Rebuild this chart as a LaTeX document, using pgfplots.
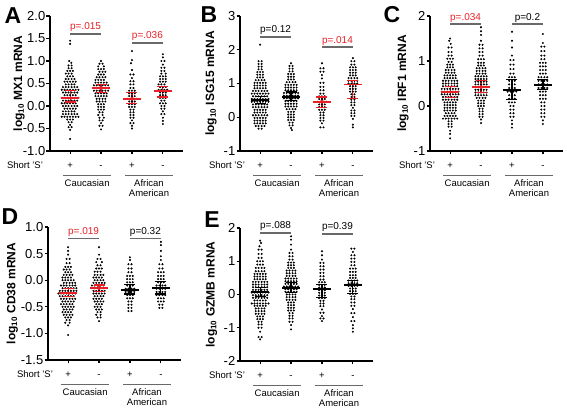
\documentclass[border=0pt]{standalone}
\usepackage{pgfplots}
\pgfplotsset{compat=1.18}
\usetikzlibrary{plotmarks}
\usepackage{fontspec}
\setmainfont{Liberation Sans}
\definecolor{pred}{RGB}{232,32,38}
\definecolor{bgray}{RGB}{105,105,105}
\newcommand{\lab}{\fontsize{9.5}{11}\selectfont}
\newcommand{\pfont}{\fontsize{10}{12}\selectfont}
\newcommand{\letfont}{\bfseries\fontsize{23}{25}\selectfont}
\pgfplotsset{
  panel/.style={
    scale only axis, width=133pt, height=135pt, anchor=south west,
    xmin=0.35, xmax=4.65, clip=false,
    axis lines=left, axis line style={-, line width=1.4pt},
    tick style={black, line width=1.2pt}, major tick length=3.5pt, tick align=outside,
    xtick={1,2,3,4}, xticklabels={+,-,+,-},
    x tick label style={font=\lab, text height=7pt, text depth=0pt, yshift=-3.5pt},
    y tick label style={font=\fontsize{13}{14}\selectfont, inner sep=1pt},
  },
  dots/.style={only marks, mark=*, mark size=0.8pt, black, mark options={draw=none, fill=black}},
}
\newcommand{\summ}[5]{%
  \addplot[#1, mark=none, line width=1.2pt] coordinates {(#2,#4) (#2,#5)};
  \addplot[#1, only marks, mark=-, mark size=5.5pt, mark options={line width=1.2pt}] coordinates {(#2,#4) (#2,#5)};
  \addplot[#1, only marks, mark=-, mark size=9pt, mark options={line width=1.9pt}] coordinates {(#2,#3)};
}
\newcommand{\bracket}[4]{% x1, y, color, text
  \draw[bgray, line width=1.2pt] (axis cs:#1,#2) -- (axis cs:#1+1,#2);
  \node[anchor=base, text=#3, font=\pfont, inner sep=0pt] at ([yshift=4pt]axis cs:#1+0.5,#2) {#4};
}
\newcommand{\bottomlabels}[2]{%
  \node[anchor=base east, font=\lab, inner sep=0pt] at ([xshift=#2, yshift=-18pt]axis cs:1,#1) {Short 'S'};
  \draw[bgray, line width=0.9pt] ([yshift=-24pt]axis cs:0.78,#1) -- ([yshift=-24pt]axis cs:2.32,#1);
  \draw[bgray, line width=0.9pt] ([yshift=-24pt]axis cs:2.78,#1) -- ([yshift=-24pt]axis cs:4.32,#1);
  \node[anchor=base, font=\lab, inner sep=0pt] at ([yshift=-35.5pt]axis cs:1.55,#1) {Caucasian};
  \node[anchor=base, font=\lab, inner sep=0pt] at ([yshift=-35.5pt]axis cs:3.55,#1) {African};
  \node[anchor=base, font=\lab, inner sep=0pt] at ([yshift=-46pt]axis cs:3.55,#1) {American};
}
\begin{document}
\begin{tikzpicture}
\useasboundingbox (0pt,0pt) rectangle (567pt,411pt);
% ---------------- Panel A ----------------
\begin{axis}[panel, at={(50pt,260pt)}, ymin=-1, ymax=2,
  ytick={-1,-0.5,0,0.5,1,1.5,2}, yticklabels={-1.0,-0.5,0.0,0.5,1.0,1.5,2.0},
  ylabel={log\textsubscript{10} MX1 mRNA},
  every axis y label/.style={at={(axis description cs:-0.233,0.5)}, rotate=90, anchor=center, font=\bfseries\fontsize{12}{13}\selectfont}]
\addplot[dots] coordinates {
(1,1.45)(1,1.38)(0.97,1.0)(1.04,0.96)(0.95,0.9)(1.05,0.9)(0.95,0.84)(1.05,0.84)
(0.91,0.78)(1,0.78)(1.09,0.78)
(0.86,0.72)(0.95,0.72)(1.05,0.72)
(0.91,0.66)(1,0.66)(1.09,0.66)
(0.86,0.6)(0.95,0.6)(1.05,0.6)(1.14,0.6)
(0.82,0.54)(0.91,0.54)(1,0.54)(1.09,0.54)(1.18,0.54)
(0.86,0.48)(0.95,0.48)(1.05,0.48)(1.14,0.48)
(0.77,0.42)(0.86,0.42)(0.95,0.42)(1.05,0.42)(1.14,0.42)(1.23,0.42)
(0.73,0.36)(0.82,0.36)(0.91,0.36)(1,0.36)(1.09,0.36)(1.18,0.36)(1.27,0.36)
(0.77,0.3)(0.86,0.3)(0.95,0.3)(1.05,0.3)(1.14,0.3)(1.23,0.3)
(0.82,0.24)(0.91,0.24)(1,0.24)(1.09,0.24)(1.18,0.24)
(0.73,0.18)(0.82,0.18)(0.91,0.18)(1,0.18)(1.09,0.18)(1.18,0.18)(1.27,0.18)
(0.77,0.12)(0.86,0.12)(0.95,0.12)(1.05,0.12)(1.14,0.12)(1.23,0.12)
(0.73,0.06)(0.82,0.06)(0.91,0.06)(1,0.06)(1.09,0.06)(1.18,0.06)
(0.77,0)(0.86,0)(0.95,0)(1.05,0)(1.14,0)(1.23,0)
(0.82,-0.06)(0.91,-0.06)(1,-0.06)(1.09,-0.06)(1.18,-0.06)
(0.77,-0.12)(0.86,-0.12)(0.95,-0.12)(1.05,-0.12)(1.14,-0.12)
(0.77,-0.18)(0.86,-0.18)(0.95,-0.18)(1.05,-0.18)(1.14,-0.18)(1.23,-0.18)
(0.73,-0.24)(0.82,-0.24)(0.91,-0.24)(1,-0.24)(1.09,-0.24)(1.18,-0.24)(1.27,-0.24)
(0.91,-0.3)(1,-0.3)(1.09,-0.3)
(0.95,-0.36)(1.05,-0.36)
(1,-0.42)(0.95,-0.47)(1.05,-0.47)(1,-0.53)(1,-0.73)
};
\addplot[dots] coordinates {
(2,1.0)(1.95,0.94)(2.05,0.94)(1.91,0.88)(2.09,0.88)
(1.91,0.82)(2,0.82)(2.09,0.82)
(1.95,0.76)(2.05,0.76)(2.14,0.76)
(1.91,0.7)(2,0.7)(2.09,0.7)
(1.86,0.64)(1.95,0.64)(2.05,0.64)(2.14,0.64)
(1.82,0.58)(1.91,0.58)(2,0.58)(2.09,0.58)
(1.82,0.52)(1.91,0.52)(2,0.52)(2.09,0.52)(2.18,0.52)
(1.77,0.46)(1.86,0.46)(1.95,0.46)(2.05,0.46)(2.14,0.46)(2.23,0.46)
(1.77,0.4)(1.86,0.4)(1.95,0.4)(2.05,0.4)(2.14,0.4)(2.23,0.4)
(1.77,0.34)(1.86,0.34)(1.95,0.34)(2.05,0.34)(2.14,0.34)(2.23,0.34)
(1.82,0.28)(1.91,0.28)(2,0.28)(2.09,0.28)(2.18,0.28)
(1.82,0.22)(1.91,0.22)(2,0.22)(2.09,0.22)(2.18,0.22)
(1.86,0.16)(1.95,0.16)(2.05,0.16)(2.14,0.16)
(1.86,0.1)(1.95,0.1)(2.05,0.1)(2.14,0.1)
(1.91,0.04)(2,0.04)(2.09,0.04)
(1.91,-0.02)(2,-0.02)(2.09,-0.02)
(1.91,-0.08)(2,-0.08)(2.09,-0.08)
(1.95,-0.14)(2.05,-0.14)
(1.91,-0.2)(2.05,-0.2)
(1.95,-0.26)(2.09,-0.26)
(1.95,-0.32)(2.05,-0.32)
(2,-0.38)(1.95,-0.44)(2.05,-0.44)(2,-0.52)
};
\addplot[dots] coordinates {
(3,1.22)(3,1.02)(2.97,0.95)(3,0.8)(2.95,0.7)(3.05,0.7)(3,0.62)
(2.95,0.55)(3.05,0.55)(2.95,0.48)(3.05,0.48)(2.95,0.4)(3.05,0.4)
(2.91,0.34)(3,0.34)(3.09,0.34)
(2.91,0.28)(3,0.28)(3.09,0.28)
(2.91,0.22)(3,0.22)(3.09,0.22)
(2.86,0.16)(2.95,0.16)(3.05,0.16)(3.14,0.16)
(2.91,0.1)(3,0.1)(3.09,0.1)
(2.91,0.04)(3,0.04)(3.09,0.04)
(2.91,-0.02)(3,-0.02)(3.09,-0.02)
(2.95,-0.08)(3.05,-0.08)
(2.95,-0.14)(3.05,-0.14)
(2.95,-0.2)(3.05,-0.2)
(2.95,-0.26)(3.05,-0.26)
(3,-0.32)(2.95,-0.38)(3.05,-0.38)(3,-0.44)(3,-0.5)
};
\addplot[dots] coordinates {
(4,1.15)(4,1.08)(3.95,1.0)(4.05,1.0)(4,0.92)(3.95,0.85)(4.05,0.85)
(3.95,0.78)(4.05,0.78)(3.95,0.72)(4.09,0.72)
(3.91,0.66)(4,0.66)(4.09,0.66)
(3.91,0.6)(4,0.6)(4.09,0.6)
(3.91,0.54)(4,0.54)(4.09,0.54)
(3.86,0.48)(3.95,0.48)(4.05,0.48)
(3.91,0.42)(4,0.42)(4.09,0.42)
(3.86,0.36)(3.95,0.36)(4.05,0.36)(4.14,0.36)
(3.91,0.3)(4,0.3)(4.09,0.3)
(3.91,0.24)(4,0.24)(4.09,0.24)
(3.91,0.18)(4,0.18)(4.09,0.18)
(3.95,0.12)(4.05,0.12)
(3.91,0.06)(4,0.06)(4.09,0.06)
(3.95,0)(4.05,0)
(3.95,-0.06)(4.05,-0.06)
(4,-0.12)(3.95,-0.18)(4.05,-0.18)(4,-0.26)(4,-0.33)(4,-0.4)
};
\summ{pred}{1}{0.17}{0.09}{0.34}
\summ{pred}{2}{0.39}{0.30}{0.47}
\summ{pred}{3}{0.15}{0.06}{0.30}
\summ{pred}{4}{0.33}{0.20}{0.43}
\bracket{1}{1.6}{pred}{p=.015}
\bracket{3}{1.4}{pred}{p=.036}
\bottomlabels{-1}{-27pt}
\end{axis}
% ---------------- Panel B ----------------
\begin{axis}[panel, at={(240pt,260pt)}, ymin=-1, ymax=3,
  ytick={-1,0,1,2,3}, yticklabels={-1,0,1,2,3},
  ylabel={log\textsubscript{10} ISG15 mRNA},
  every axis y label/.style={at={(axis description cs:-0.218,0.5)}, rotate=90, anchor=center, font=\bfseries\fontsize{12}{13}\selectfont}]
\addplot[dots] coordinates {
(1,2.15)
(0.95,1.66)(1.05,1.66)(0.95,1.58)(1.05,1.58)(0.95,1.5)(1.05,1.5)(0.95,1.42)(1.05,1.42)
(0.91,1.34)(1,1.34)(1.09,1.34)
(0.91,1.26)(1,1.26)(1.09,1.26)
(0.91,1.18)(1,1.18)(1.09,1.18)
(0.86,1.1)(0.95,1.1)(1.05,1.1)(1.14,1.1)
(0.82,1.02)(0.91,1.02)(1,1.02)(1.09,1.02)(1.18,1.02)
(0.82,0.94)(0.91,0.94)(1,0.94)(1.09,0.94)(1.18,0.94)
(0.82,0.86)(0.91,0.86)(1,0.86)(1.09,0.86)(1.18,0.86)
(0.77,0.78)(0.86,0.78)(0.95,0.78)(1.05,0.78)(1.14,0.78)(1.23,0.78)
(0.73,0.7)(0.82,0.7)(0.91,0.7)(1,0.7)(1.09,0.7)(1.18,0.7)(1.27,0.7)
(0.77,0.62)(0.86,0.62)(0.95,0.62)(1.05,0.62)(1.14,0.62)(1.23,0.62)
(0.73,0.54)(0.82,0.54)(0.91,0.54)(1,0.54)(1.09,0.54)(1.18,0.54)(1.27,0.54)
(0.73,0.46)(0.82,0.46)(0.91,0.46)(1,0.46)(1.09,0.46)(1.18,0.46)(1.27,0.46)
(0.77,0.38)(0.86,0.38)(0.95,0.38)(1.05,0.38)(1.14,0.38)(1.23,0.38)
(0.77,0.3)(0.86,0.3)(0.95,0.3)(1.05,0.3)(1.14,0.3)(1.23,0.3)
(0.82,0.22)(0.91,0.22)(1,0.22)(1.09,0.22)(1.18,0.22)
(0.82,0.14)(0.91,0.14)(1,0.14)(1.09,0.14)(1.18,0.14)
(0.77,0.06)(0.86,0.06)(0.95,0.06)(1.05,0.06)(1.14,0.06)(1.23,0.06)
(0.82,-0.02)(0.91,-0.02)(1,-0.02)(1.09,-0.02)(1.18,-0.02)
(0.82,-0.1)(0.91,-0.1)(1,-0.1)(1.09,-0.1)(1.18,-0.1)
(0.82,-0.18)(0.91,-0.18)(1,-0.18)(1.09,-0.18)(1.18,-0.18)
(0.86,-0.26)(0.95,-0.26)(1.05,-0.26)(1.14,-0.26)
(0.95,-0.34)(1.05,-0.34)
};
\addplot[dots] coordinates {
(2,1.6)
(1.95,1.52)(2.05,1.52)(1.95,1.44)(2.05,1.44)(1.95,1.36)(2.05,1.36)
(1.91,1.28)(2,1.28)(2.09,1.28)
(1.91,1.2)(2,1.2)(2.09,1.2)
(1.91,1.12)(2,1.12)(2.09,1.12)
(1.86,1.04)(1.95,1.04)(2.05,1.04)(2.14,1.04)
(1.82,0.96)(1.91,0.96)(2,0.96)(2.09,0.96)(2.18,0.96)
(1.82,0.88)(1.91,0.88)(2,0.88)(2.09,0.88)(2.18,0.88)
(1.82,0.8)(1.91,0.8)(2,0.8)(2.09,0.8)(2.18,0.8)
(1.77,0.72)(1.86,0.72)(1.95,0.72)(2.05,0.72)(2.14,0.72)(2.23,0.72)
(1.77,0.64)(1.86,0.64)(1.95,0.64)(2.05,0.64)(2.14,0.64)(2.23,0.64)
(1.77,0.56)(1.86,0.56)(1.95,0.56)(2.05,0.56)(2.14,0.56)(2.23,0.56)
(1.82,0.48)(1.91,0.48)(2,0.48)(2.09,0.48)(2.18,0.48)
(1.82,0.4)(1.91,0.4)(2,0.4)(2.09,0.4)(2.18,0.4)
(1.82,0.32)(1.91,0.32)(2,0.32)(2.09,0.32)(2.18,0.32)
(1.86,0.24)(1.95,0.24)(2.05,0.24)(2.14,0.24)
(1.91,0.16)(2,0.16)(2.09,0.16)
(1.91,0.08)(2,0.08)(2.09,0.08)
(1.91,0)(2,0)(2.09,0)
(1.91,-0.08)(2,-0.08)(2.09,-0.08)
(1.95,-0.16)(2.05,-0.16)
(1.95,-0.24)(2.05,-0.24)
(2,-0.32)(2.03,-0.38)
};
\addplot[dots] coordinates {
(3,1.6)(2.95,1.45)(3.05,1.45)(2.95,1.35)(3.05,1.35)(3,1.25)(3,1.15)
(2.95,1.02)(3.05,1.02)(2.95,0.9)(3.05,0.9)(2.95,0.8)(3.05,0.8)(2.95,0.7)(3.05,0.7)
(2.91,0.62)(3,0.62)(3.09,0.62)
(2.91,0.54)(3,0.54)(3.09,0.54)
(2.86,0.46)(2.95,0.46)(3.05,0.46)(3.14,0.46)
(2.91,0.38)(3,0.38)(3.09,0.38)
(2.91,0.3)(3,0.3)(3.09,0.3)
(2.91,0.22)(3,0.22)(3.09,0.22)
(2.95,0.14)(3.05,0.14)(2.95,0.06)(3.05,0.06)(2.95,-0.02)(3.05,-0.02)(2.95,-0.1)(3.05,-0.1)
(3,-0.18)(2.95,-0.3)(3.05,-0.3)
};
\addplot[dots] coordinates {
(4,1.75)
(3.95,1.66)(4.05,1.66)(3.95,1.56)(4.05,1.56)
(3.91,1.48)(4,1.48)(4.09,1.48)
(3.91,1.4)(4,1.4)(4.09,1.4)
(3.91,1.32)(4,1.32)(4.09,1.32)
(3.91,1.24)(4,1.24)(4.09,1.24)
(3.86,1.16)(3.95,1.16)(4.05,1.16)(4.14,1.16)
(3.86,1.08)(3.95,1.08)(4.05,1.08)(4.14,1.08)
(3.86,1)(3.95,1)(4.05,1)(4.14,1)
(3.91,0.92)(4,0.92)(4.09,0.92)
(3.91,0.84)(4,0.84)(4.09,0.84)
(3.91,0.76)(4,0.76)(4.09,0.76)
(3.95,0.68)(4.05,0.68)(3.95,0.6)(4.05,0.6)(3.95,0.52)(4.05,0.52)(3.95,0.44)(4.05,0.44)(3.95,0.36)(4.05,0.36)
(4,0.28)(3.95,0.2)(4.05,0.2)(3.95,0.12)(4.05,0.12)(3.95,0.04)(4.05,0.04)
(4,-0.05)(4,-0.22)(4,-0.3)
};
\summ{black}{1}{0.50}{0.41}{0.62}
\summ{black}{2}{0.60}{0.50}{0.75}
\summ{pred}{3}{0.45}{0.28}{0.60}
\summ{pred}{4}{0.97}{0.55}{1.10}
\bracket{1}{2.38}{black}{p=0.12}
\bracket{3}{2.08}{pred}{p=.014}
\bottomlabels{-1}{-15pt}
\end{axis}
% ---------------- Panel C ----------------
\begin{axis}[panel, at={(430pt,260pt)}, ymin=-1, ymax=2,
  ytick={-1,0,1,2}, yticklabels={-1,0,1,2},
  ylabel={log\textsubscript{10} IRF1 mRNA},
  every axis y label/.style={at={(axis description cs:-0.203,0.5)}, rotate=90, anchor=center, font=\bfseries\fontsize{12}{13}\selectfont}]
\addplot[dots] coordinates {
(1,1.5)(0.97,1.45)(1.02,1.38)(0.95,1.3)(1.05,1.3)(0.95,1.2)(1.05,1.2)(0.95,1.12)(1.05,1.12)
(0.91,1.05)(1,1.05)(1.09,1.05)
(0.95,0.98)(1.05,0.98)
(0.91,0.92)(1,0.92)(1.09,0.92)
(0.91,0.86)(1,0.86)(1.09,0.86)
(0.86,0.8)(0.95,0.8)(1.05,0.8)(1.14,0.8)
(0.86,0.74)(0.95,0.74)(1.05,0.74)(1.14,0.74)
(0.82,0.68)(0.91,0.68)(1,0.68)(1.09,0.68)(1.18,0.68)
(0.82,0.62)(0.91,0.62)(1,0.62)(1.09,0.62)(1.18,0.62)
(0.77,0.56)(0.86,0.56)(0.95,0.56)(1.05,0.56)(1.14,0.56)(1.23,0.56)
(0.77,0.5)(0.86,0.5)(0.95,0.5)(1.05,0.5)(1.14,0.5)(1.23,0.5)
(0.77,0.44)(0.86,0.44)(0.95,0.44)(1.05,0.44)(1.14,0.44)(1.23,0.44)
(0.73,0.38)(0.82,0.38)(0.91,0.38)(1,0.38)(1.09,0.38)(1.18,0.38)(1.27,0.38)
(0.73,0.32)(0.82,0.32)(0.91,0.32)(1,0.32)(1.09,0.32)(1.18,0.32)(1.27,0.32)
(0.73,0.26)(0.82,0.26)(0.91,0.26)(1,0.26)(1.09,0.26)(1.18,0.26)(1.27,0.26)
(0.77,0.2)(0.86,0.2)(0.95,0.2)(1.05,0.2)(1.14,0.2)(1.23,0.2)
(0.77,0.14)(0.86,0.14)(0.95,0.14)(1.05,0.14)(1.14,0.14)(1.23,0.14)
(0.82,0.08)(0.91,0.08)(1,0.08)(1.09,0.08)(1.18,0.08)
(0.82,0.02)(0.91,0.02)(1,0.02)(1.09,0.02)(1.18,0.02)
(0.82,-0.04)(0.91,-0.04)(1,-0.04)(1.09,-0.04)(1.18,-0.04)
(0.82,-0.1)(0.91,-0.1)(1,-0.1)(1.09,-0.1)(1.18,-0.1)
(0.86,-0.16)(0.95,-0.16)(1.05,-0.16)(1.14,-0.16)
(0.82,-0.22)(0.91,-0.22)(1,-0.22)(1.09,-0.22)(1.18,-0.22)
(0.77,-0.28)(0.86,-0.28)(0.95,-0.28)(1.05,-0.28)(1.14,-0.28)(1.23,-0.28)
(0.95,-0.34)(1.05,-0.34)(0.95,-0.4)(1.05,-0.4)(0.95,-0.46)(1.05,-0.46)
(1,-0.55)(1,-0.62)(1,-0.72)
};
\addplot[dots] coordinates {
(2,1.75)(2,1.66)(2,1.58)(2,1.45)(1.95,1.36)(2.05,1.36)(1.95,1.28)(2.05,1.28)(1.95,1.2)(2.05,1.2)(1.95,1.12)(2.05,1.12)
(1.91,1.04)(2,1.04)(2.09,1.04)
(1.91,0.96)(2,0.96)(2.09,0.96)
(1.91,0.9)(2,0.9)(2.09,0.9)
(1.86,0.84)(1.95,0.84)(2.05,0.84)(2.14,0.84)
(1.86,0.78)(1.95,0.78)(2.05,0.78)(2.14,0.78)
(1.86,0.72)(1.95,0.72)(2.05,0.72)(2.14,0.72)
(1.82,0.66)(1.91,0.66)(2,0.66)(2.09,0.66)(2.18,0.66)
(1.82,0.6)(1.91,0.6)(2,0.6)(2.09,0.6)(2.18,0.6)
(1.82,0.54)(1.91,0.54)(2,0.54)(2.09,0.54)(2.18,0.54)
(1.82,0.48)(1.91,0.48)(2,0.48)(2.09,0.48)(2.18,0.48)
(1.77,0.42)(1.86,0.42)(1.95,0.42)(2.05,0.42)(2.14,0.42)(2.23,0.42)
(1.82,0.36)(1.91,0.36)(2,0.36)(2.09,0.36)(2.18,0.36)
(1.82,0.3)(1.91,0.3)(2,0.3)(2.09,0.3)(2.18,0.3)
(1.82,0.24)(1.91,0.24)(2,0.24)(2.09,0.24)(2.18,0.24)
(1.86,0.18)(1.95,0.18)(2.05,0.18)(2.14,0.18)
(1.91,0.12)(2,0.12)(2.09,0.12)
(1.91,0.06)(2,0.06)(2.09,0.06)
(1.91,0)(2,0)(2.09,0)
(1.95,-0.06)(2.05,-0.06)(1.95,-0.12)(2.05,-0.12)(1.95,-0.18)(2.05,-0.18)(1.95,-0.24)(2.05,-0.24)
(2,-0.3)(2,-0.38)
};
\addplot[dots] coordinates {
(3,1.65)(3,1.45)(3,1.3)(3,1.12)(2.95,1.02)(3.05,1.02)(2.95,0.92)(3.05,0.92)(2.95,0.82)(3.05,0.82)(2.95,0.72)(3.05,0.72)
(2.91,0.64)(3,0.64)(3.09,0.64)
(2.91,0.56)(3,0.56)(3.09,0.56)
(2.91,0.48)(3,0.48)(3.09,0.48)
(2.91,0.4)(3,0.4)(3.09,0.4)
(2.86,0.32)(2.95,0.32)(3.05,0.32)(3.14,0.32)
(2.91,0.24)(3,0.24)(3.09,0.24)
(2.91,0.16)(3,0.16)(3.09,0.16)
(2.91,0.08)(3,0.08)(3.09,0.08)
(2.95,0)(3.05,0)(2.95,-0.08)(3.05,-0.08)(2.95,-0.16)(3.05,-0.16)(2.95,-0.24)(3.05,-0.24)
(3,-0.32)(3,-0.4)(3,-0.48)
};
\addplot[dots] coordinates {
(4,1.6)(4,1.4)(3.95,1.32)(4.05,1.32)(3.95,1.22)(4.05,1.22)(3.95,1.12)(4.05,1.12)(3.95,1.04)(4.05,1.04)
(3.91,0.96)(4,0.96)(4.09,0.96)
(3.91,0.88)(4,0.88)(4.09,0.88)
(3.91,0.8)(4,0.8)(4.09,0.8)
(3.91,0.72)(4,0.72)(4.09,0.72)
(3.86,0.64)(3.95,0.64)(4.05,0.64)(4.14,0.64)
(3.86,0.56)(3.95,0.56)(4.05,0.56)(4.14,0.56)
(3.86,0.48)(3.95,0.48)(4.05,0.48)(4.14,0.48)
(3.86,0.4)(3.95,0.4)(4.05,0.4)(4.14,0.4)
(3.91,0.32)(4,0.32)(4.09,0.32)
(3.91,0.24)(4,0.24)(4.09,0.24)
(3.91,0.16)(4,0.16)(4.09,0.16)
(3.95,0.08)(4.05,0.08)(3.95,0)(4.05,0)(3.95,-0.08)(4.05,-0.08)(3.95,-0.16)(4.05,-0.16)(3.95,-0.24)(4.05,-0.24)
(4,-0.32)(4,-0.4)
};
\summ{pred}{1}{0.31}{0.19}{0.43}
\summ{pred}{2}{0.42}{0.30}{0.57}
\summ{black}{3}{0.35}{0.14}{0.58}
\summ{black}{4}{0.47}{0.36}{0.58}
\bracket{1}{1.82}{pred}{p=.034}
\bracket{3}{1.82}{black}{p=0.2}
\bottomlabels{-1}{-15pt}
\end{axis}
% ---------------- Panel D ----------------
\begin{axis}[panel, at={(48pt,51pt)}, height=133pt, ymin=-1.5, ymax=1,
  ytick={-1.5,-1,-0.5,0,0.5,1}, yticklabels={-1.5,-1.0,-0.5,0.0,0.5,1.0},
  ylabel={log\textsubscript{10} CD38 mRNA},
  every axis y label/.style={at={(axis description cs:-0.269,0.5)}, rotate=90, anchor=center, font=\bfseries\fontsize{12}{13}\selectfont}]
\addplot[dots] coordinates {
(1,0.62)(1,0.55)(1,0.48)(0.95,0.4)(1.05,0.4)(0.95,0.32)(1.05,0.32)
(0.91,0.25)(1,0.25)(1.09,0.25)
(0.86,0.2)(0.95,0.2)(1.05,0.2)
(0.91,0.15)(1,0.15)(1.09,0.15)
(0.86,0.1)(0.95,0.1)(1.05,0.1)(1.14,0.1)
(0.82,0.05)(0.91,0.05)(1,0.05)(1.09,0.05)
(0.82,0)(0.91,0)(1,0)(1.09,0)(1.18,0)
(0.86,-0.05)(0.95,-0.05)(1.05,-0.05)(1.14,-0.05)(1.23,-0.05)
(0.77,-0.1)(0.86,-0.1)(0.95,-0.1)(1.05,-0.1)(1.14,-0.1)(1.23,-0.1)
(0.82,-0.15)(0.91,-0.15)(1,-0.15)(1.09,-0.15)(1.18,-0.15)(1.27,-0.15)
(0.73,-0.2)(0.82,-0.2)(0.91,-0.2)(1,-0.2)(1.09,-0.2)(1.18,-0.2)(1.27,-0.2)
(0.77,-0.25)(0.86,-0.25)(0.95,-0.25)(1.05,-0.25)(1.14,-0.25)(1.23,-0.25)(0.69,-0.25)
(0.73,-0.3)(0.82,-0.3)(0.91,-0.3)(1,-0.3)(1.09,-0.3)(1.18,-0.3)
(0.77,-0.35)(0.86,-0.35)(0.95,-0.35)(1.05,-0.35)(1.14,-0.35)(1.23,-0.35)
(0.82,-0.4)(0.91,-0.4)(1,-0.4)(1.09,-0.4)(1.18,-0.4)
(0.77,-0.45)(0.86,-0.45)(0.95,-0.45)(1.05,-0.45)(1.14,-0.45)
(0.82,-0.5)(0.91,-0.5)(1,-0.5)(1.09,-0.5)(1.18,-0.5)
(0.86,-0.55)(0.95,-0.55)(1.05,-0.55)(1.14,-0.55)
(0.82,-0.6)(0.91,-0.6)(1,-0.6)(1.09,-0.6)
(0.86,-0.65)(0.95,-0.65)(1.05,-0.65)(1.14,-0.65)
(0.91,-0.7)(1,-0.7)(1.09,-0.7)
(0.95,-0.75)(1.05,-0.75)(0.91,-0.8)(1.05,-0.8)(1,-0.85)(1,-1.03)
};
\addplot[dots] coordinates {
(2,0.62)(2,0.48)(1.95,0.4)(2.05,0.4)(1.91,0.34)(2.09,0.34)(1.95,0.28)(2.05,0.28)
(1.91,0.22)(2,0.22)(2.09,0.22)
(1.86,0.16)(1.95,0.16)(2.05,0.16)
(1.86,0.1)(1.95,0.1)(2.05,0.1)(2.14,0.1)
(1.82,0.05)(1.91,0.05)(2,0.05)(2.09,0.05)
(1.86,0)(1.95,0)(2.05,0)(2.14,0)
(1.82,-0.05)(1.91,-0.05)(2,-0.05)(2.09,-0.05)(2.18,-0.05)
(1.77,-0.1)(1.86,-0.1)(1.95,-0.1)(2.05,-0.1)(2.14,-0.1)
(1.77,-0.15)(1.86,-0.15)(1.95,-0.15)(2.05,-0.15)(2.14,-0.15)(2.23,-0.15)
(1.82,-0.2)(1.91,-0.2)(2,-0.2)(2.09,-0.2)(2.18,-0.2)
(1.82,-0.25)(1.91,-0.25)(2,-0.25)(2.09,-0.25)(2.18,-0.25)
(1.86,-0.3)(1.95,-0.3)(2.05,-0.3)(2.14,-0.3)
(1.82,-0.35)(1.91,-0.35)(2,-0.35)(2.09,-0.35)
(1.86,-0.4)(1.95,-0.4)(2.05,-0.4)(2.14,-0.4)
(1.91,-0.45)(2,-0.45)(2.09,-0.45)
(1.86,-0.5)(1.95,-0.5)(2.05,-0.5)
(1.91,-0.55)(2,-0.55)(2.09,-0.55)
(1.95,-0.6)(2.05,-0.6)(1.91,-0.65)(2.05,-0.65)(1.95,-0.7)(2.05,-0.7)(2,-0.77)
};
\addplot[dots] coordinates {
(3,0.43)(3,0.38)(2.95,0.3)(3.05,0.3)(2.95,0.22)(3.05,0.22)(2.95,0.15)(3.05,0.15)
(2.91,0.08)(3,0.08)(3.09,0.08)
(2.91,0.02)(3,0.02)(3.09,0.02)
(2.91,-0.04)(3,-0.04)(3.09,-0.04)
(2.91,-0.1)(3,-0.1)(3.09,-0.1)
(2.86,-0.16)(2.95,-0.16)(3.05,-0.16)(3.14,-0.16)
(2.86,-0.22)(2.95,-0.22)(3.05,-0.22)(3.14,-0.22)
(2.91,-0.28)(3,-0.28)(3.09,-0.28)
(2.91,-0.34)(3,-0.34)(3.09,-0.34)
(2.95,-0.4)(3.05,-0.4)(2.95,-0.46)(3.05,-0.46)(2.95,-0.52)(3.05,-0.52)(2.95,-0.58)(3.05,-0.58)
};
\addplot[dots] coordinates {
(4,0.72)(4,0.66)(4,0.55)(4,0.45)(4,0.38)(3.95,0.3)(4.05,0.3)(3.95,0.22)(4.05,0.22)
(3.91,0.15)(4,0.15)(4.09,0.15)
(3.91,0.08)(4,0.08)(4.09,0.08)
(3.91,0.02)(4,0.02)(4.09,0.02)
(3.91,-0.04)(4,-0.04)(4.09,-0.04)
(3.86,-0.1)(3.95,-0.1)(4.05,-0.1)(4.14,-0.1)
(3.86,-0.16)(3.95,-0.16)(4.05,-0.16)(4.14,-0.16)
(3.86,-0.22)(3.95,-0.22)(4.05,-0.22)(4.14,-0.22)
(3.86,-0.28)(3.95,-0.28)(4.05,-0.28)(4.14,-0.28)
(3.91,-0.34)(4,-0.34)(4.09,-0.34)
(3.91,-0.4)(4,-0.4)(4.09,-0.4)
(3.95,-0.46)(4.05,-0.46)(3.95,-0.52)(4.05,-0.52)
};
\summ{pred}{1}{-0.24}{-0.31}{-0.16}
\summ{pred}{2}{-0.15}{-0.22}{-0.09}
\summ{black}{3}{-0.18}{-0.26}{-0.08}
\summ{black}{4}{-0.15}{-0.26}{-0.03}
\bracket{1}{0.79}{pred}{p=.019}
\bracket{3}{0.79}{black}{p=0.32}
\bottomlabels{-1.5}{-15pt}
\end{axis}
% ---------------- Panel E ----------------
\begin{axis}[panel, at={(240pt,50pt)}, height=133pt, ymin=-2, ymax=2,
  ytick={-2,-1,0,1,2}, yticklabels={-2,-1,0,1,2},
  ylabel={log\textsubscript{10} GZMB mRNA},
  every axis y label/.style={at={(axis description cs:-0.214,0.5)}, rotate=90, anchor=center, font=\bfseries\fontsize{12}{13}\selectfont}]
\addplot[dots] coordinates {
(1,1.62)(1.03,1.55)(0.98,1.45)(0.95,1.35)(1.05,1.35)(0.95,1.22)(1.05,1.22)(0.95,1.1)(1.05,1.1)
(0.91,1)(1,1)(1.09,1)
(0.91,0.9)(1,0.9)(1.09,0.9)
(0.86,0.8)(0.95,0.8)(1.05,0.8)(1.14,0.8)
(0.86,0.7)(0.95,0.7)(1.05,0.7)(1.14,0.7)
(0.82,0.62)(0.91,0.62)(1,0.62)(1.09,0.62)(1.18,0.62)
(0.82,0.54)(0.91,0.54)(1,0.54)(1.09,0.54)(1.18,0.54)
(0.82,0.46)(0.91,0.46)(1,0.46)(1.09,0.46)(1.18,0.46)
(0.77,0.38)(0.86,0.38)(0.95,0.38)(1.05,0.38)(1.14,0.38)(1.23,0.38)
(0.77,0.3)(0.86,0.3)(0.95,0.3)(1.05,0.3)(1.14,0.3)(1.23,0.3)
(0.77,0.22)(0.86,0.22)(0.95,0.22)(1.05,0.22)(1.14,0.22)(1.23,0.22)
(0.77,0.14)(0.86,0.14)(0.95,0.14)(1.05,0.14)(1.14,0.14)(1.23,0.14)
(0.73,0.06)(0.82,0.06)(0.91,0.06)(1,0.06)(1.09,0.06)(1.18,0.06)(1.27,0.06)
(0.77,-0.02)(0.86,-0.02)(0.95,-0.02)(1.05,-0.02)(1.14,-0.02)(1.23,-0.02)
(0.77,-0.1)(0.86,-0.1)(0.95,-0.1)(1.05,-0.1)(1.14,-0.1)(1.23,-0.1)
(0.82,-0.18)(0.91,-0.18)(1,-0.18)(1.09,-0.18)(1.18,-0.18)
(0.73,-0.27)(0.82,-0.27)(0.91,-0.27)(1,-0.27)(1.09,-0.27)(1.18,-0.27)(1.27,-0.27)
(0.82,-0.34)(0.91,-0.34)(1,-0.34)(1.09,-0.34)(1.18,-0.34)
(0.86,-0.42)(0.95,-0.42)(1.05,-0.42)(1.14,-0.42)
(0.86,-0.5)(0.95,-0.5)(1.05,-0.5)(1.14,-0.5)
(0.86,-0.58)(0.95,-0.58)(1.05,-0.58)(1.14,-0.58)
(0.91,-0.66)(1,-0.66)(1.09,-0.66)
(0.91,-0.74)(1,-0.74)(1.09,-0.74)
(0.95,-0.82)(1.05,-0.82)(0.95,-0.9)(1.05,-0.9)(0.95,-1)(1.05,-1)
(1,-1.12)(0.95,-1.28)(1.05,-1.28)(1,-1.35)
};
\addplot[dots] coordinates {
(2,1.75)(2,1.65)(2,1.5)(2,1.35)(1.95,1.25)(2.05,1.25)(1.95,1.15)(2.05,1.15)(1.95,1.05)(2.05,1.05)
(1.91,0.96)(2,0.96)(2.09,0.96)
(1.91,0.88)(2,0.88)(2.09,0.88)
(1.91,0.8)(2,0.8)(2.09,0.8)
(1.86,0.72)(1.95,0.72)(2.05,0.72)(2.14,0.72)
(1.86,0.64)(1.95,0.64)(2.05,0.64)(2.14,0.64)
(1.86,0.56)(1.95,0.56)(2.05,0.56)(2.14,0.56)
(1.82,0.48)(1.91,0.48)(2,0.48)(2.09,0.48)(2.18,0.48)
(1.82,0.4)(1.91,0.4)(2,0.4)(2.09,0.4)(2.18,0.4)
(1.82,0.32)(1.91,0.32)(2,0.32)(2.09,0.32)(2.18,0.32)
(1.77,0.24)(1.86,0.24)(1.95,0.24)(2.05,0.24)(2.14,0.24)(2.23,0.24)
(1.82,0.16)(1.91,0.16)(2,0.16)(2.09,0.16)(2.18,0.16)
(1.82,0.08)(1.91,0.08)(2,0.08)(2.09,0.08)(2.18,0.08)
(1.86,0)(1.95,0)(2.05,0)(2.14,0)
(1.86,-0.08)(1.95,-0.08)(2.05,-0.08)(2.14,-0.08)
(1.86,-0.16)(1.95,-0.16)(2.05,-0.16)(2.14,-0.16)
(1.91,-0.24)(2,-0.24)(2.09,-0.24)
(1.91,-0.32)(2,-0.32)(2.09,-0.32)
(1.91,-0.4)(2,-0.4)(2.09,-0.4)
(1.91,-0.48)(2,-0.48)(2.09,-0.48)
(1.95,-0.56)(2.05,-0.56)(1.95,-0.64)(2.05,-0.64)(1.95,-0.72)(2.05,-0.72)(1.95,-0.82)(2.05,-0.82)
(2,-0.92)(2,-1.05)
};
\addplot[dots] coordinates {
(3,1.3)(3,1.18)(3,1.05)(2.95,0.95)(3.05,0.95)(2.95,0.85)(3.05,0.85)(2.95,0.75)(3.05,0.75)(2.95,0.65)(3.05,0.65)(2.95,0.55)(3.05,0.55)(2.95,0.45)(3.05,0.45)
(2.91,0.37)(3,0.37)(3.09,0.37)
(2.91,0.29)(3,0.29)(3.09,0.29)
(2.91,0.21)(3,0.21)(3.09,0.21)
(2.91,0.13)(3,0.13)(3.09,0.13)
(2.91,0.05)(3,0.05)(3.09,0.05)
(2.91,-0.03)(3,-0.03)(3.09,-0.03)
(2.91,-0.11)(3,-0.11)(3.09,-0.11)
(2.95,-0.19)(3.05,-0.19)(2.95,-0.27)(3.05,-0.27)(2.95,-0.35)(3.05,-0.35)
(3,-0.45)(2.95,-0.55)(3.05,-0.55)(3,-0.65)(2.95,-0.72)(3.05,-0.72)(3,-0.8)
};
\addplot[dots] coordinates {
(3.95,1.38)(4.05,1.38)(4,1.28)(3.95,1.18)(4.05,1.18)(3.95,1.08)(4.05,1.08)(3.95,0.98)(4.05,0.98)(3.95,0.88)(4.05,0.88)
(3.91,0.78)(4,0.78)(4.09,0.78)
(3.91,0.68)(4,0.68)(4.09,0.68)
(3.91,0.58)(4,0.58)(4.09,0.58)
(3.91,0.5)(4,0.5)(4.09,0.5)
(3.86,0.42)(3.95,0.42)(4.05,0.42)(4.14,0.42)
(3.86,0.34)(3.95,0.34)(4.05,0.34)(4.14,0.34)
(3.86,0.26)(3.95,0.26)(4.05,0.26)(4.14,0.26)
(3.91,0.18)(4,0.18)(4.09,0.18)
(3.91,0.1)(4,0.1)(4.09,0.1)
(3.91,0.02)(4,0.02)(4.09,0.02)
(3.95,-0.06)(4.05,-0.06)(3.95,-0.14)(4.05,-0.14)(3.95,-0.24)(4.05,-0.24)(3.95,-0.34)(4.05,-0.34)
(4,-0.44)(3.95,-0.56)(4.05,-0.56)(4,-0.68)(3.95,-0.8)(4.05,-0.8)(4,-0.92)(4,-1.02)(4,-1.12)
};
\summ{black}{1}{0.08}{-0.05}{0.20}
\summ{black}{2}{0.20}{0.06}{0.35}
\summ{black}{3}{0.17}{-0.08}{0.30}
\summ{black}{4}{0.29}{0.03}{0.42}
\bracket{1}{1.85}{black}{p=.088}
\bracket{3}{1.82}{black}{p=0.39}
\bottomlabels{-2}{-15pt}
\end{axis}
% ---------------- Panel letters ----------------
\node[font=\letfont] at (13pt,395pt) {A};
\node[font=\letfont] at (209pt,396pt) {B};
\node[font=\letfont] at (392pt,396pt) {C};
\node[font=\letfont] at (10pt,194pt) {D};
\node[font=\letfont] at (212pt,191pt) {E};
\end{tikzpicture}
\end{document}
